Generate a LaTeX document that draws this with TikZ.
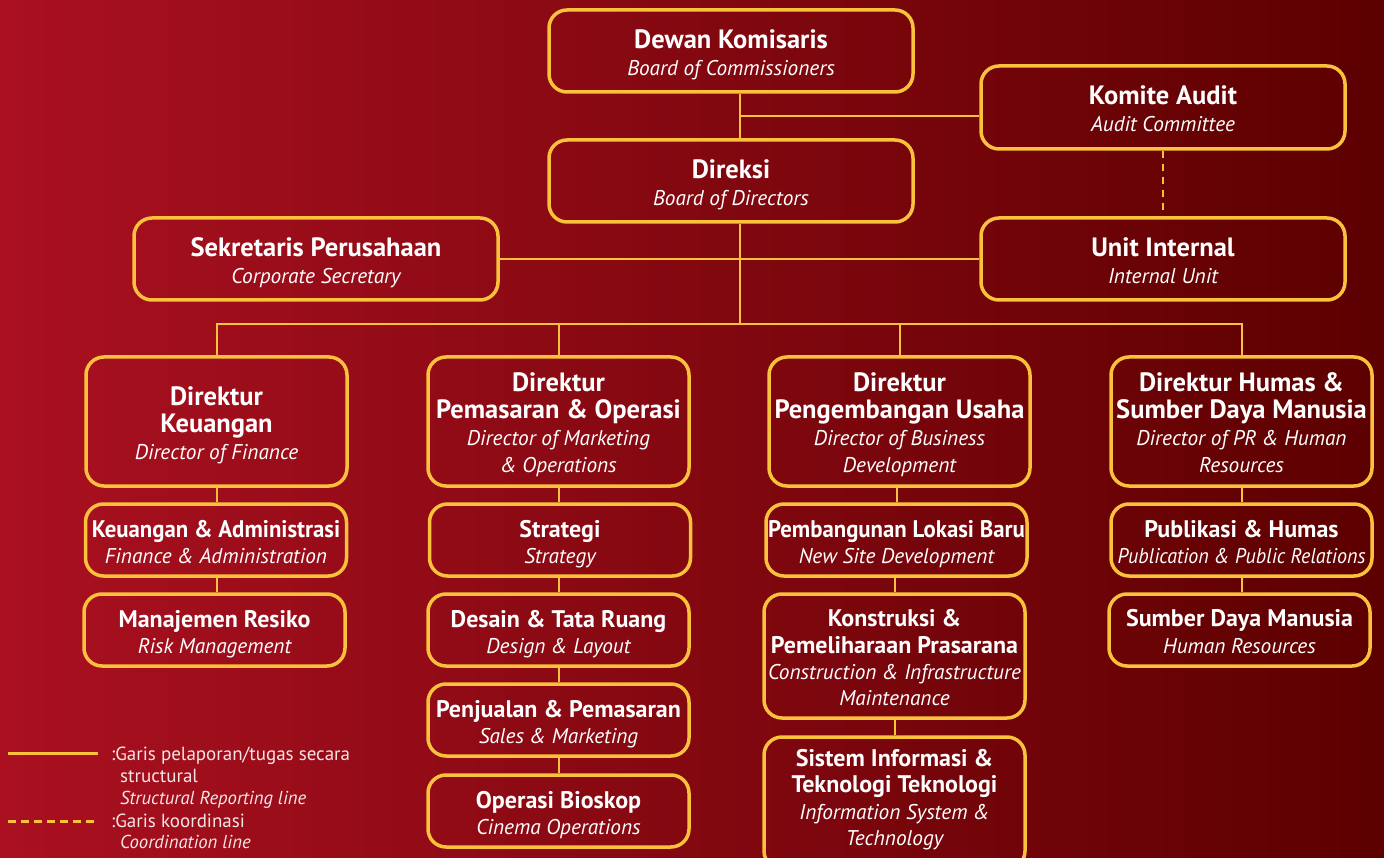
\documentclass[tikz,border=0pt]{standalone}
\usepackage{graphicx}
\usepackage{fontspec}
\setmainfont{PT Sans}
\definecolor{gold}{RGB}{250,194,60}
\definecolor{bgl}{RGB}{170,16,32}
\definecolor{bgr}{RGB}{92,0,0}
\definecolor{legtxt}{RGB}{245,230,230}
\newcommand\hb{\fontsize{26.5}{27}\selectfont\bfseries\upshape}
\newcommand\hs{\fontsize{24}{26}\selectfont\bfseries\upshape}
\newcommand\hi{\fontsize{21.3}{27}\selectfont\mdseries\itshape}
\newcommand\lgn{\fontsize{19}{22}\selectfont\mdseries\upshape}
\newcommand\lgi{\fontsize{18.7}{22}\selectfont\mdseries\itshape}
\newcommand\sq[2]{\scalebox{#1}[1]{#2}}
\newcommand\tsp[1]{\rule{0pt}{#1pt}}
\newcommand\dsp{\rule[-5pt]{0pt}{5pt}}
\tikzset{
  box/.style={draw=gold, line width=3.5pt, rounded corners=18pt, align=center, text=white, inner sep=0pt},
  bigbox/.style={box, minimum width=364pt, minimum height=82pt, font=\fontsize{21.3}{27}\selectfont},
  dirbox/.style={box, minimum width=261pt, minimum height=129pt, font=\fontsize{21.3}{27}\selectfont},
  subbox/.style={box, minimum width=261pt, minimum height=72pt, font=\fontsize{21.3}{26.3}\selectfont},
  conn/.style={draw=gold, line width=2pt},
  coord/.style={conn, dash pattern=on 7pt off 6pt},
  legline/.style={draw=gold, line width=3pt},
  legtext/.style={anchor=base west, text=legtxt, inner sep=0pt}
}
\begin{document}
\begin{tikzpicture}[x=1pt,y=-1pt]
\useasboundingbox (0,0) rectangle (1384,858);
\clip (0,0) rectangle (1384,858);
\shade[left color=bgl, right color=bgr] (0,0) rectangle (1384,858);

% top level
\node[bigbox] (dk) at (731,51) {\hb\tsp{27}Dewan Komisaris\\\hi Board of Commissioners};
\node[bigbox, minimum height=83pt] (ka) at (1163,107.5) {\hb\tsp{27}Komite Audit\\\hi Audit Committee\dsp};
\node[bigbox] (dir) at (731,181) {\hb\tsp{27}Direksi\\\hi Board of Directors};
\node[bigbox] (sek) at (316,259) {\hb\tsp{27}Sekretaris Perusahaan\\\hi Corporate Secretary};
\node[bigbox] (ui) at (1163,259) {\hb\tsp{27}Unit Internal\\\hi Internal Unit\dsp};

% directors
\node[dirbox] (d1) at (216.5,421.5) {\hb\tsp{26}Direktur\\\hb Keuangan\\\hi Director of Finance};
\node[dirbox] (d2) at (558.5,421.5) {\hb\tsp{26}Direktur\\\hb Pemasaran \& Operasi\\\hi Director of Marketing\\\hi \& Operations};
\node[dirbox] (d3) at (899.5,421.5) {\hb\tsp{26}Direktur\\\hb Pengembangan Usaha\\\hi Director of Business\\\hi Development};
\node[dirbox] (d4) at (1241.5,421.5) {\hb\tsp{26}Direktur Humas \&\\\hb Sumber Daya Manusia\\\hi Director of PR \& Human\\\hi Resources\dsp};

% column 1
\node[subbox] (s11) at (216,540) {\hs\tsp{22}\sq{0.95}{Keuangan \& Administrasi}\\\hi Finance \& Administration};
\node[subbox] (s12) at (214.5,630) {\hs\tsp{25}Manajemen Resiko\\\hi Risk Management};
% column 2
\node[subbox] (s21) at (560,540) {\hs\tsp{25}Strategi\\\hi Strategy};
\node[subbox] (s22) at (558.5,630) {\hs\tsp{25}Desain \& Tata Ruang\\\hi Design \& Layout};
\node[subbox] (s23) at (558.5,720) {\hs\tsp{25}Penjualan \& Pemasaran\\\hi Sales \& Marketing};
\node[subbox] (s24) at (558.5,811) {\hs\tsp{25}Operasi Bioskop\\\hi Cinema Operations};
% column 3
\node[subbox] (s31) at (896.5,540) {\hs\tsp{25}\sq{0.95}{Pembangunan Lokasi Baru}\\\hi New Site Development};
\node[subbox, minimum height=124pt] (s32) at (894.5,656) {\hs\tsp{21}Konstruksi \&\\\hs Pemeliharaan Prasarana\\\hi Construction \& Infrastructure\\\hi Maintenance};
\node[subbox, minimum height=132pt] (s33) at (894.5,803) {\hs Sistem Informasi \&\\\hs Teknologi Teknologi\\\hi Information System \&\\\hi Technology\rule[-11pt]{0pt}{1pt}};
% column 4
\node[subbox] (s41) at (1241.5,540) {\hs\tsp{21}Publikasi \& Humas\\\hi \sq{0.94}{Publication \& Public Relations}};
\node[subbox] (s42) at (1239.5,630) {\hs\tsp{25}Sumber Daya Manusia\\\hi Human Resources\dsp};

% connectors
\coordinate (sp) at (740,0);
\coordinate (kaj) at (740,116);
\coordinate (bus) at (740,324);
\draw[conn] (dk.south -| sp) -- (dir.north -| sp);
\draw[conn] (kaj) -- (kaj -| ka.west);
\draw[coord] (ka.south) -- (ui.north);
\draw[conn] (sek.east) -- (ui.west);
\draw[conn] (dir.south -| sp) -- (bus);
\draw[conn] (d1.north) |- (d4.north |- bus) -- (d4.north);
\draw[conn] (d2.north) -- (d2.north |- bus);
\draw[conn] (d3.north) -- (d3.north |- bus);

\draw[conn] (d1.south) -- (d1.south |- s11.north);
\draw[conn] (s11.south -| d1.south) -- (s12.north -| d1.south);
\draw[conn] (d2.south) -- (d2.south |- s21.north);
\draw[conn] (s21.south -| d2.south) -- (s22.north -| d2.south);
\draw[conn] (s22.south) -- (s23.north);
\draw[conn] (s23.south) -- (s24.north);
\draw[conn] (d3.south -| s31.north) -- (s31.north);
\draw[conn] (s31.south -| s32.north) -- (s32.north);
\draw[conn] (s32.south) -- (s33.north);
\draw[conn] (d4.south) -- (d4.south |- s41.north);
\draw[conn] (s41.south -| d4.south) -- (s42.north -| d4.south);

% legend
\coordinate (la1) at (8,753);
\coordinate (la2) at (98,753);
\coordinate (lb1) at (8,821);
\coordinate (lb2) at (98,821);
\draw[legline] (la1) -- (la2);
\draw[legline, dash pattern=on 8pt off 5pt] (lb1) -- (lb2);
\node[legtext] (lt1) at (111,760) {\lgn :Garis pelaporan/tugas secara};
\node[legtext] (lt2) at (120,782) {\lgn structural};
\node[legtext] (lt3) at (120,804) {\lgi Structural Reporting line};
\node[legtext] (lt4) at (111,827) {\lgn :Garis koordinasi};
\node[legtext] (lt5) at (120,848) {\lgi Coordination line};
\end{tikzpicture}
\end{document}
